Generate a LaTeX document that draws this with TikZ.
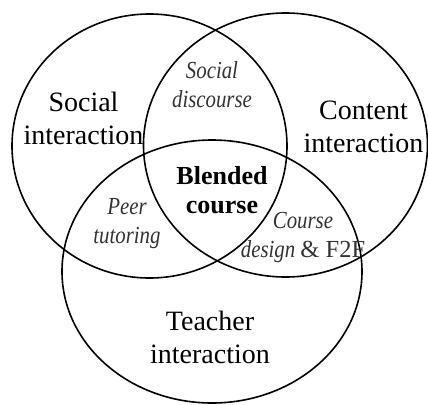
\documentclass[tikz,border=0pt]{standalone}
\usepackage{fontspec}
\setmainfont{Liberation Serif}
\newfontfamily\narrowfont{Liberation Serif}[FakeStretch=0.85]
\usetikzlibrary{shapes.geometric}
\tikzset{
  ring/.style={draw=black, line width=1.6bp, ellipse, inner sep=0pt},
  mainlbl/.style={anchor=base, inner sep=0pt, font=\fontsize{28bp}{33.5bp}\selectfont},
  boldlbl/.style={anchor=base, inner sep=0pt, font=\fontsize{26bp}{29.5bp}\selectfont\bfseries},
  itlbl/.style={anchor=base, inner sep=0pt, text=black!80, font=\fontsize{24.5bp}{29.5bp}\selectfont\narrowfont\itshape}
}
\newcommand{\twolines}[2]{\begin{tabular}[t]{@{}c@{}}#1\\#2\end{tabular}}
\begin{document}
\begin{tikzpicture}[x=1bp,y=-1bp]
\useasboundingbox (0,0) rectangle (428,405);
\node[ring, minimum width=275bp, minimum height=264bp] (social) at (149.5,146) {};
\node[ring, minimum width=284bp, minimum height=264bp] (content) at (285.5,145) {};
\node[ring, minimum width=300bp, minimum height=263bp] (teacher) at (212,271.5) {};
\node[mainlbl] (soclbl) at (83.5,111) {\twolines{Social}{interaction}};
\node[mainlbl] (conlbl) at (363.5,119) {\twolines{Content}{interaction}};
\node[mainlbl] (tealbl) at (210,330) {\twolines{Teacher}{interaction}};
\node[boldlbl] (blend) at (222,184) {\twolines{Blended}{course}};
\node[itlbl] (disc) at (212,78) {\twolines{Social}{discourse}};
\node[itlbl] (peer) at (127,214) {\twolines{Peer}{tutoring}};
\node[itlbl] (design) at (303,228) {\twolines{Course}{design {\upshape\addfontfeature{FakeStretch=1}\& F2F}}};
\end{tikzpicture}
\end{document}
